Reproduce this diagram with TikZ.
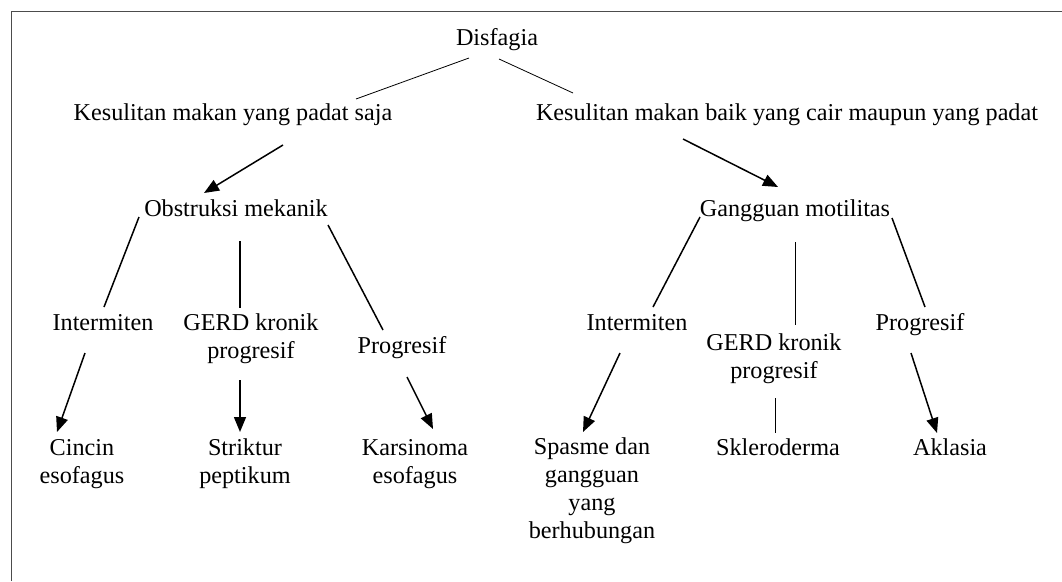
\documentclass[tikz,border=0pt]{standalone}
\usepackage{fontspec}
\setmainfont{Liberation Serif}
\usetikzlibrary{arrows.meta}
\newcommand\myfs{\fontsize{24.2}{27.7}\selectfont}
\tikzset{
  lbl/.style={font=\myfs, anchor=base, inner sep=0pt, align=center},
  thinln/.style={line width=0.8pt},
  midln/.style={line width=1.5pt},
  arr/.style={line width=1.5pt, -{Triangle[length=15pt,width=12pt]}},
  frame/.style={line width=0.9pt, draw=black!70}
}
\begin{document}
\begin{tikzpicture}[x=1pt,y=-1pt]
\useasboundingbox (0,0) rectangle (1062,581);
\coordinate (fb) at (11,581);
\coordinate (ft) at (11,11);
\coordinate (fr) at (1062,11);
\draw[frame] (fb) -- (ft) -- (fr);

% multi-line nodes: base anchor = baseline of last line
\node[lbl] (dis) at (497,45) {Disfagia};
\node[lbl] (k1) at (233,120) {Kesulitan makan yang padat saja};
\node[lbl] (k2) at (787,120) {Kesulitan makan baik yang cair maupun yang padat};
\node[lbl] (om) at (236,216) {Obstruksi mekanik};
\node[lbl] (gm) at (795,216) {Gangguan motilitas};
\node[lbl] (il) at (103,330) {Intermiten};
\node[lbl] (gl) at (251,358) {GERD kronik\\progresif};
\node[lbl] (pl) at (402,353) {Progresif};
\node[lbl] (cl) at (82,483) {Cincin\\esofagus};
\node[lbl] (sl) at (245,483) {Striktur\\peptikum};
\node[lbl] (kl) at (415,483) {Karsinoma\\esofagus};
\node[lbl] (ir) at (637,330) {Intermiten};
\node[lbl] (gr) at (774,378) {GERD kronik\\progresif};
\node[lbl] (pr) at (920,330) {Progresif};
\node[lbl] (sr) at (592,538) {Spasme dan\\gangguan\\yang\\berhubungan};
\node[lbl] (skr) at (778,455) {Skleroderma};
\node[lbl] (ar) at (950,455) {Aklasia};

\draw[thinln] ([shift={(469-497,58-45)}]dis.base) -- ([shift={(356-233,99-120)}]k1.base);
\draw[thinln] ([shift={(499-497,59-45)}]dis.base) -- ([shift={(573-787,93-120)}]k2.base);
\draw[arr] ([shift={(283-233,145-120)}]k1.base) -- ([shift={(204-236,193-216)}]om.base);
\draw[arr] ([shift={(683-787,139-120)}]k2.base) -- ([shift={(778-795,187-216)}]gm.base);
\draw[midln] ([shift={(139-236,217-216)}]om.base) -- ([shift={(104-103,307-330)}]il.base);
\draw[midln] ([shift={(240-236,241-216)}]om.base) -- ([shift={(240-251,308-358)}]gl.base);
\draw[midln] ([shift={(328-236,225-216)}]om.base) -- ([shift={(383-402,330-353)}]pl.base);
\draw[arr] ([shift={(85-103,353-330)}]il.base) -- ([shift={(57-82,432-483)}]cl.base);
\draw[arr] ([shift={(240-251,380-358)}]gl.base) -- ([shift={(240-245,432-483)}]sl.base);
\draw[arr] ([shift={(407-402,377-353)}]pl.base) -- ([shift={(433-415,429-483)}]kl.base);
\draw[midln] ([shift={(700-795,217-216)}]gm.base) -- ([shift={(653-637,307-330)}]ir.base);
\draw[thinln] ([shift={(795-795,242-216)}]gm.base) -- ([shift={(795-774,325-378)}]gr.base);
\draw[midln] ([shift={(892-795,218-216)}]gm.base) -- ([shift={(925-920,307-330)}]pr.base);
\draw[arr] ([shift={(620-637,353-330)}]ir.base) -- ([shift={(583-592,432-538)}]sr.base);
\draw[thinln] ([shift={(775-774,398-378)}]gr.base) -- ([shift={(775-778,433-455)}]skr.base);
\draw[arr] ([shift={(911-920,353-330)}]pr.base) -- ([shift={(937-950,433-455)}]ar.base);
\end{tikzpicture}
\end{document}
